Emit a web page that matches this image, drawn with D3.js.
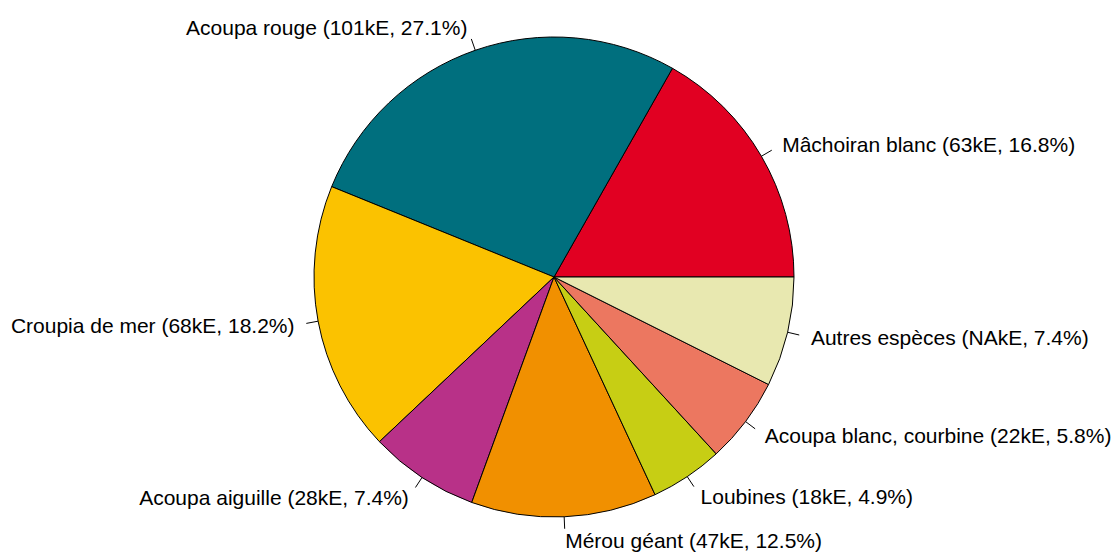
<!DOCTYPE html>
<html>
<head>
<meta charset="utf-8">
<script src="https://cdn.jsdelivr.net/npm/d3@7"></script>
<style>
  body { margin: 0; background: #fff; }
  svg text { font-family: "Liberation Sans", Arial, sans-serif; font-size: 21px; fill: #000; }
</style>
</head>
<body>
<svg id="chart"></svg>
<script>
const species = ['Mâchoiran blanc', 'Acoupa rouge', 'Croupia de mer', 'Acoupa aiguille',
    'Mérou géant', 'Loubines', 'Acoupa blanc, courbine', 'Autres espèces']
const valuesKE = ['63', '101', '68', '28', '47', '18', '22', 'NA']
const shares = [16.8, 27.1, 18.2, 7.4, 12.5, 4.9, 5.8, 7.4]
const colors = ['#E10022', '#006F7E', '#FBC200', '#B83188', '#F19000', '#C7CE14', '#EC7760', '#E8E8B0']

const width = 1113, height = 552
const cx = 554, cy = 277, radius = 240

const svg = d3.select('#chart')
    .attr('width', width)
    .attr('height', height)

const g = svg.append('g')
    .attr('transform', `translate(${cx}, ${cy})`)

const data = species.map((s, i) => ({ name: s, kE: valuesKE[i], pct: shares[i], color: colors[i] }))

// R pie: counterclockwise from 3 o'clock. d3 angles are clockwise from 12 o'clock,
// so start at pi/2 and go negative.
const pie = d3.pie()
    .value(d => d.pct)
    .sort(null)
    .startAngle(Math.PI / 2)
    .endAngle(Math.PI / 2 - 2 * Math.PI)

const arcs = pie(data)

const arc = d3.arc()
    .innerRadius(0)
    .outerRadius(radius)

g.selectAll('path.slice')
    .data(arcs)
    .join('path')
    .attr('class', 'slice')
    .attr('d', arc)
    .attr('fill', d => d.data.color)
    .attr('stroke', '#000')
    .attr('stroke-width', 1)

const mid = d => (d.startAngle + d.endAngle) / 2
const px = (a, r) => Math.sin(a) * r
const py = (a, r) => -Math.cos(a) * r

g.selectAll('line.tick')
    .data(arcs)
    .join('line')
    .attr('class', 'tick')
    .attr('x1', d => px(mid(d), radius))
    .attr('y1', d => py(mid(d), radius))
    .attr('x2', d => px(mid(d), radius * 1.05))
    .attr('y2', d => py(mid(d), radius * 1.05))
    .attr('stroke', '#000')
    .attr('stroke-width', 1)

g.selectAll('text.label')
    .data(arcs)
    .join('text')
    .attr('class', 'label')
    .attr('x', d => px(mid(d), radius * 1.1))
    .attr('y', d => py(mid(d), radius * 1.1))
    .attr('dy', '0.35em')
    .attr('text-anchor', d => px(mid(d), 1) > 0 ? 'start' : 'end')
    .text(d => `${d.data.name} (${d.data.kE}kE, ${d.data.pct.toFixed(1)}%)`)
</script>
</body>
</html>
